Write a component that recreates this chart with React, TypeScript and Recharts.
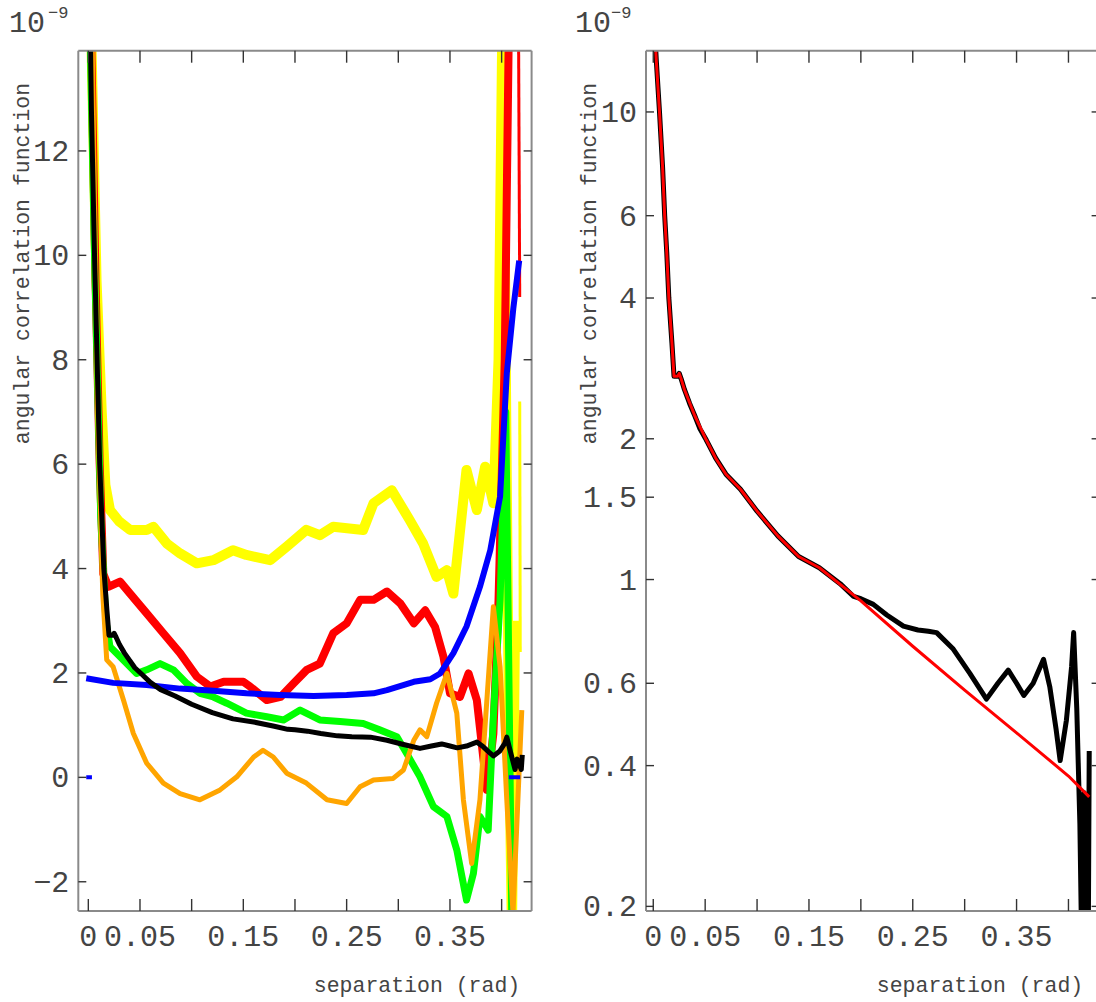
import React from 'react';
import { LineChart, Line, XAxis, YAxis } from 'recharts';

const FONT = '"Liberation Mono", "DejaVu Sans Mono", monospace';

// ---------- left panel series (units of 1e-9) ----------
const yellowX = [0.002, 0.008, 0.013, 0.0165, 0.021, 0.03, 0.0404, 0.0565, 0.063, 0.0759, 0.0888, 0.105, 0.121, 0.14, 0.153, 0.176, 0.192, 0.211, 0.224, 0.237, 0.266, 0.276, 0.2937, 0.311, 0.324, 0.337, 0.347, 0.3533, 0.366, 0.376, 0.384, 0.392, 0.397, 0.401, 0.404, 0.407, 0.41, 0.413];
const yellowY = [15, 9.5, 7, 5.6, 5.12, 4.9, 4.74, 4.74, 4.8, 4.48, 4.29, 4.1, 4.16, 4.35, 4.26, 4.16, 4.42, 4.74, 4.64, 4.8, 4.74, 5.25, 5.5, 4.93, 4.48, 3.84, 3.97, 3.52, 5.89, 5.12, 5.95, 5.25, 8, 15, 8, 1, -3, 3];
const yellowTailX = [0.4175, 0.418];
const yellowTailY = [7.2, 2.4];

const redX = [0.002, 0.007, 0.011, 0.0145, 0.0194, 0.0307, 0.0404, 0.0565, 0.0726, 0.0888, 0.105, 0.118, 0.131, 0.15, 0.1565, 0.1727, 0.186, 0.1985, 0.2114, 0.224, 0.237, 0.25, 0.263, 0.276, 0.289, 0.302, 0.315, 0.326, 0.3356, 0.3437, 0.35, 0.3597, 0.368, 0.376, 0.3857, 0.392, 0.397, 0.403, 0.408];
const redY = [15, 9.5, 6, 3.9, 3.65, 3.75, 3.52, 3.14, 2.76, 2.38, 1.93, 1.74, 1.83, 1.83, 1.74, 1.48, 1.54, 1.8, 2.06, 2.18, 2.76, 2.95, 3.4, 3.4, 3.56, 3.33, 2.95, 3.2, 2.88, 2.31, 1.61, 1.54, 1.99, 1.48, -0.24, 0.84, 3.4, 8, 16];
const redTailX = [0.416, 0.4175];
const redTailY = [16, 9.2];

const greenX = [0.0, 0.006, 0.012, 0.017, 0.021, 0.0307, 0.0468, 0.0565, 0.0694, 0.0823, 0.0953, 0.108, 0.121, 0.134, 0.153, 0.1727, 0.189, 0.205, 0.224, 0.2436, 0.266, 0.282, 0.2985, 0.308, 0.321, 0.334, 0.347, 0.3566, 0.366, 0.3727, 0.379, 0.387, 0.392, 0.3985, 0.404, 0.41];
const greenY = [16, 10, 5, 3.0, 2.5, 2.31, 1.99, 2.06, 2.18, 2.06, 1.8, 1.61, 1.54, 1.42, 1.23, 1.16, 1.1, 1.29, 1.1, 1.07, 1.03, 0.91, 0.78, 0.46, 0.01, -0.56, -0.75, -1.39, -2.35, -1.84, -0.75, -1.01, 1.16, 3.4, 7, -3];

const orangeX = [0.003, 0.009, 0.014, 0.0178, 0.024, 0.034, 0.0436, 0.0565, 0.0726, 0.0888, 0.108, 0.1275, 0.1437, 0.16, 0.169, 0.179, 0.192, 0.211, 0.231, 0.25, 0.263, 0.276, 0.295, 0.305, 0.315, 0.321, 0.3276, 0.337, 0.347, 0.3566, 0.363, 0.371, 0.379, 0.392, 0.3985, 0.405, 0.411, 0.4195];
const orangeY = [15, 7, 3.5, 2.25, 2.12, 1.48, 0.84, 0.27, -0.11, -0.31, -0.43, -0.24, 0.01, 0.39, 0.52, 0.39, 0.08, -0.11, -0.43, -0.5, -0.18, -0.05, -0.02, 0.14, 0.71, 0.91, 0.78, 1.42, 1.99, 1.23, -0.43, -1.65, -0.43, 3.27, 2.12, -0.43, -2.6, 1.29];

const blueX = [-0.002, 0.024, 0.0565, 0.0888, 0.121, 0.153, 0.1856, 0.218, 0.25, 0.276, 0.289, 0.315, 0.331, 0.3405, 0.3533, 0.366, 0.379, 0.389, 0.3985, 0.405, 0.4114, 0.417];
const blueY = [1.9, 1.81, 1.77, 1.7, 1.66, 1.61, 1.58, 1.56, 1.58, 1.61, 1.67, 1.83, 1.88, 1.99, 2.38, 2.89, 3.65, 4.35, 5.38, 7.74, 9.0, 9.9];

const blueZeroX = [-0.002, 0.0035, 0.005, 0.407, 0.418];
const blueZeroY = [0, 0, null, 0, 0];

// ---------- black series (shared by both panels) ----------
const blackX = [0.0, 0.003, 0.006, 0.009, 0.011, 0.013, 0.015, 0.018, 0.02, 0.0235, 0.025, 0.027, 0.03, 0.035, 0.04, 0.045, 0.051, 0.06, 0.07, 0.084, 0.1, 0.12, 0.14, 0.16, 0.18, 0.193, 0.2, 0.212, 0.225, 0.241, 0.255, 0.265, 0.273, 0.289, 0.305, 0.321, 0.332, 0.342, 0.35, 0.357, 0.366, 0.376, 0.382, 0.388, 0.392, 0.398, 0.403, 0.405, 0.408, 0.411, 0.413, 0.415, 0.417, 0.419, 0.42];
const blackY = [17, 12.8, 10, 7.6, 6, 5, 4, 3.2, 2.72, 2.72, 2.76, 2.68, 2.55, 2.38, 2.24, 2.1, 1.99, 1.82, 1.68, 1.56, 1.4, 1.24, 1.12, 1.06, 0.98, 0.92, 0.91, 0.885, 0.84, 0.795, 0.78, 0.775, 0.77, 0.71, 0.63, 0.555, 0.6, 0.64, 0.6, 0.565, 0.6, 0.675, 0.59, 0.48, 0.41, 0.5, 0.65, 0.77, 0.53, 0.3, 0.15, 0.35, 0.25, 0.15, 0.43];

// ---------- right panel fit (red) ----------
const fitX = [0.0, 0.003, 0.006, 0.009, 0.011, 0.013, 0.015, 0.018, 0.02, 0.0235, 0.025, 0.027, 0.03, 0.04, 0.051, 0.06, 0.07, 0.084, 0.1, 0.12, 0.14, 0.16, 0.2, 0.25, 0.3, 0.35, 0.4, 0.42];
const fitY = [17, 12.8, 10, 7.6, 6, 5, 4, 3.2, 2.72, 2.72, 2.76, 2.68, 2.55, 2.24, 1.99, 1.82, 1.68, 1.56, 1.4, 1.24, 1.12, 1.06, 0.9, 0.72, 0.58, 0.47, 0.38, 0.343];

// ---------- ticks ----------
const xTicks = [0, 0.05, 0.1, 0.15, 0.2, 0.25, 0.3, 0.35, 0.4];
const xTickText = ['0', '0.05', '', '0.15', '', '0.25', '', '0.35', ''];
const linTicks = [-2, 0, 2, 4, 6, 8, 10, 12];
const linTickText = ['\u22122', '0', '2', '4', '6', '8', '10', '12'];
const logTicks = [0.2, 0.4, 0.6, 1, 1.5, 2, 4, 6, 10];
const logTickText = ['0.2', '0.4', '0.6', '1', '1.5', '2', '4', '6', '10'];

const zip = (xs: number[], ys: (number | null)[]) => xs.map((x, i) => ({ x, y: ys[i] }));

const yellowData = zip(yellowX, yellowY);
const yellowTailData = zip(yellowTailX, yellowTailY);
const redData = zip(redX, redY);
const redTailData = zip(redTailX, redTailY);
const greenData = zip(greenX, greenY);
const orangeData = zip(orangeX, orangeY);
const blueData = zip(blueX, blueY);
const blueZeroData = zip(blueZeroX, blueZeroY);
const blackData = zip(blackX, blackY);
const fitData = zip(fitX, fitY);

const TICK_COLOR = '#333';
const LABEL_COLOR = '#444';
const FRAME = { stroke: '#8a8a8a', strokeWidth: 2 };

function labelFor(ticks: number[], texts: string[], v: number) {
  const i = ticks.findIndex((t) => Math.abs(t - v) < 1e-9);
  return i >= 0 ? texts[i] : '';
}

const makeTick = (side: string, len: number, ticks?: number[], texts?: string[]) => (props: any) => {
  const { x, y, payload } = props;
  const txt = ticks && texts ? labelFor(ticks, texts, payload.value) : '';
  const ln = { stroke: TICK_COLOR, strokeWidth: 1.4 };
  if (side === 'bottom') {
    return (
      <g>
        <line x1={x} y1={y} x2={x} y2={y - len} {...ln} />
        {txt ? (
          <text x={x} y={y + 35} textAnchor="middle" fontFamily={FONT} fontSize={30} fill={LABEL_COLOR}>{txt}</text>
        ) : null}
      </g>
    );
  }
  if (side === 'top') {
    return <g><line x1={x} y1={y} x2={x} y2={y + len} {...ln} /></g>;
  }
  if (side === 'left') {
    return (
      <g>
        <line x1={x} y1={y} x2={x + len} y2={y} {...ln} />
        {txt ? (
          <text x={x - 9} y={y + 10} textAnchor="end" fontFamily={FONT} fontSize={30} fill={LABEL_COLOR}>{txt}</text>
        ) : null}
      </g>
    );
  }
  return <g><line x1={x} y1={y} x2={x - len} y2={y} {...ln} /></g>;
};

const BottomTick = makeTick('bottom', 12, xTicks, xTickText);
const TopTick = makeTick('top', 12);
const LeftLinTick = makeTick('left', 8, linTicks, linTickText);
const LeftLogTick = makeTick('left', 8, logTicks, logTickText);
const RightTick = makeTick('right', 8);

const leftXDomain: [number, number] = [-0.0097, 0.429];
const rightXDomain: [number, number] = [-0.007, 0.43];
const linDomain: [number, number] = [-2.56, 13.92];
const logDomain: [number, number] = [0.1955, 13.52];

const axisCommon = {
  interval: 0 as const,
  tickSize: 0,
  tickMargin: 0,
  tickLine: false,
  axisLine: FRAME,
  allowDataOverflow: true,
  type: 'number' as const,
};

export default function App() {
  return (
    <div style={{ position: 'absolute', left: 0, top: 0, width: 1096, height: 1002, overflow: 'hidden', background: '#fff' }}>
      <div style={{ position: 'absolute', left: 0, top: 0 }}>
        <LineChart width={540} height={1002} margin={{ top: 49.7, right: 7.4, bottom: 90, left: 77.3 }}>
          <XAxis xAxisId="b" dataKey="x" domain={leftXDomain} ticks={xTicks} height={1} tick={BottomTick} {...axisCommon} />
          <XAxis xAxisId="t" orientation="top" dataKey="x" domain={leftXDomain} ticks={xTicks} height={1} tick={TopTick} {...axisCommon} />
          <YAxis yAxisId="l" domain={linDomain} ticks={linTicks} width={1} tick={LeftLinTick} {...axisCommon} />
          <YAxis yAxisId="r" orientation="right" domain={linDomain} ticks={linTicks} width={1} tick={RightTick} {...axisCommon} />
          <Line xAxisId="b" yAxisId="l" data={yellowData} dataKey="y" stroke="#FFFF00" strokeWidth={10} dot={false} isAnimationActive={false} strokeLinejoin="round" />
          <Line xAxisId="b" yAxisId="l" data={yellowTailData} dataKey="y" stroke="#FFFF00" strokeWidth={3} dot={false} isAnimationActive={false} />
          <Line xAxisId="b" yAxisId="l" data={redData} dataKey="y" stroke="#FF0000" strokeWidth={8} dot={false} isAnimationActive={false} strokeLinejoin="round" />
          <Line xAxisId="b" yAxisId="l" data={redTailData} dataKey="y" stroke="#FF0000" strokeWidth={3} dot={false} isAnimationActive={false} />
          <Line xAxisId="b" yAxisId="l" data={greenData} dataKey="y" stroke="#00FF00" strokeWidth={7} dot={false} isAnimationActive={false} strokeLinejoin="round" />
          <Line xAxisId="b" yAxisId="l" data={orangeData} dataKey="y" stroke="#FFA500" strokeWidth={5} dot={false} isAnimationActive={false} strokeLinejoin="round" />
          <Line xAxisId="b" yAxisId="l" data={blueData} dataKey="y" stroke="#0000FF" strokeWidth={6} dot={false} isAnimationActive={false} strokeLinejoin="round" />
          <Line xAxisId="b" yAxisId="l" data={blueZeroData} dataKey="y" stroke="#0000FF" strokeWidth={4} dot={false} isAnimationActive={false} />
          <Line xAxisId="b" yAxisId="l" data={blackData} dataKey="y" stroke="#000000" strokeWidth={5} dot={false} isAnimationActive={false} strokeLinejoin="round" />
        </LineChart>
      </div>
      <div style={{ position: 'absolute', left: 560, top: 0 }}>
        <LineChart width={550} height={1002} margin={{ top: 49.7, right: 9.4, bottom: 90, left: 85 }}>
          <XAxis xAxisId="b" dataKey="x" domain={rightXDomain} ticks={xTicks} height={1} tick={BottomTick} {...axisCommon} />
          <XAxis xAxisId="t" orientation="top" dataKey="x" domain={rightXDomain} ticks={xTicks} height={1} tick={TopTick} {...axisCommon} />
          <YAxis yAxisId="l" scale="log" domain={logDomain} ticks={logTicks} width={1} tick={LeftLogTick} {...axisCommon} />
          <YAxis yAxisId="r" orientation="right" scale="log" domain={logDomain} ticks={logTicks} width={1} tick={RightTick} {...axisCommon} />
          <Line xAxisId="b" yAxisId="l" data={blackData} dataKey="y" stroke="#000000" strokeWidth={5} dot={false} isAnimationActive={false} strokeLinejoin="round" />
          <Line xAxisId="b" yAxisId="l" data={fitData} dataKey="y" stroke="#FF0000" strokeWidth={3} dot={false} isAnimationActive={false} strokeLinejoin="round" />
        </LineChart>
      </div>
      <svg width={1096} height={1002} style={{ position: 'absolute', left: 0, top: 0, pointerEvents: 'none' }}>
        <text x={9} y={32} fontFamily={FONT} fontSize={30} fill={LABEL_COLOR}>10</text>
        <text x={48} y={18} fontFamily={FONT} fontSize={17} fill={LABEL_COLOR}>{'\u22129'}</text>
        <text x={575} y={32} fontFamily={FONT} fontSize={30} fill={LABEL_COLOR}>10</text>
        <text x={611} y={18} fontFamily={FONT} fontSize={17} fill={LABEL_COLOR}>{'\u22129'}</text>
        <text transform="translate(28.5,263.5) rotate(-90)" textAnchor="middle" fontFamily={FONT} fontSize={21.5} fill={LABEL_COLOR}>angular correlation function</text>
        <text transform="translate(595.5,263.5) rotate(-90)" textAnchor="middle" fontFamily={FONT} fontSize={21.5} fill={LABEL_COLOR}>angular correlation function</text>
        <text x={417} y={992} textAnchor="middle" fontFamily={FONT} fontSize={21.5} fill={LABEL_COLOR}>separation (rad)</text>
        <text x={980} y={992} textAnchor="middle" fontFamily={FONT} fontSize={21.5} fill={LABEL_COLOR}>separation (rad)</text>
      </svg>
    </div>
  );
}
